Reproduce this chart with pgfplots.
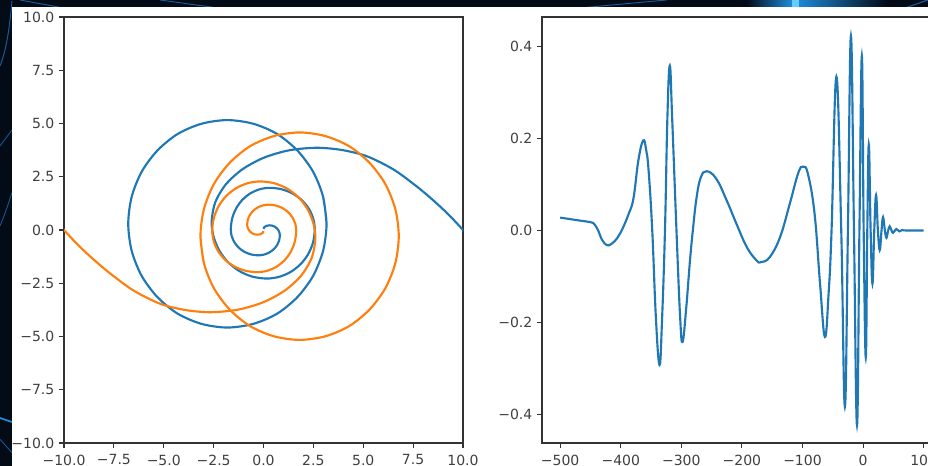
\documentclass[border=0pt]{standalone}
\usepackage{pgfplots}
\pgfplotsset{compat=1.18}
\usepackage{fontspec}
\setmainfont{DejaVu Sans}
\definecolor{mplblue}{HTML}{1F77B4}
\definecolor{mplorange}{HTML}{FF7F0E}
\definecolor{bgdark}{HTML}{030B17}
\definecolor{streak}{HTML}{1A5E9E}
\definecolor{streakb}{HTML}{1E8FE0}
\pgfplotsset{mplax/.style={
  scale only axis, height=319.5pt,
  axis line style={black!80, line width=0.8pt},
  tick align=outside, tick pos=left,
  major tick length=3.75pt,
  every tick/.style={black!80, line width=0.8pt},
  ticklabel style={font=\fontsize{10.5}{12}\selectfont, text=black!75},
  xticklabel style={yshift=-1.5pt},
  /pgf/number format/assume math mode=true,
  axis background/.style={fill=white},
  clip=true}}
\begin{document}
\begin{tikzpicture}
\path[use as bounding box] (0,0) rectangle (696pt,349.5pt);
\begin{scope}
\clip (0,0) rectangle (696pt,349.5pt);
\fill[bgdark] (0,0) rectangle (696pt,349.5pt);
% background streaks
\draw[streak, line width=0.7pt] (0pt,300pt) .. controls (4pt,310pt) and (7pt,325pt) .. (9pt,349pt);
\draw[streak, line width=0.6pt] (0pt,240pt) -- (9pt,252pt);
\draw[streak, line width=0.6pt] (0pt,180pt) .. controls (4pt,190pt) .. (9pt,205pt);
\draw[streakb, line width=1.2pt] (0pt,36pt) -- (9pt,33pt);
\draw[streak, line width=0.6pt] (0pt,20pt) -- (9pt,10pt);
\draw[streak, line width=0.7pt] (15pt,349.5pt) -- (45pt,344pt);
\draw[streak, line width=0.7pt] (120pt,349.5pt) -- (160pt,344pt);
\draw[streak, line width=0.7pt] (440pt,344pt) -- (500pt,349.5pt);
\shade[left color=bgdark, right color=streakb] (560pt,344pt) rectangle (595pt,349.5pt);
\shade[left color=streakb, right color=bgdark] (595pt,344pt) rectangle (665pt,349.5pt);
\fill[cyan!60!white] (594pt,344pt) rectangle (599pt,349.5pt);
\draw[streak, line width=0.8pt] (680pt,344pt) -- (696pt,349.5pt);
% white figure area
\fill[white] (9pt,0pt) rectangle (696pt,344.25pt);

\begin{axis}[mplax, at={(48pt,17.25pt)}, anchor=south west,
  width=299.25pt,
  xmin=-10, xmax=10, ymin=-10, ymax=10,
  xtick={-10,-7.5,-5,-2.5,0,2.5,5,7.5,10},
  xticklabels={−10.0,−7.5,−5.0,−2.5,0.0,2.5,5.0,7.5,10.0},
  ytick={-10,-7.5,-5,-2.5,0,2.5,5,7.5,10},
  yticklabels={−10.0,−7.5,−5.0,−2.5,0.0,2.5,5.0,7.5,10.0}]
% blue spiral
\addplot[mplblue, line width=1.6pt, smooth] coordinates {
(0.00,0.05) (0.04,0.135) (0.15,0.197) (0.30,0.22)
(0.435,0.204) (0.56,0.157) (0.668,0.082) (0.75,-0.015) (0.802,-0.128) (0.82,-0.25)
(0.783,-0.493) (0.674,-0.72) (0.501,-0.915) (0.275,-1.064) (0.012,-1.158) (-0.27,-1.19)
(-0.625,-1.148) (-0.955,-1.027) (-1.239,-0.833) (-1.456,-0.58) (-1.593,-0.286) (-1.64,0.03)
(-1.573,0.535) (-1.377,1.005) (-1.066,1.409) (-0.66,1.719) (-0.187,1.914) (0.32,1.98)
(0.902,1.914) (1.445,1.719) (1.911,1.409) (2.269,1.005) (2.493,0.535) (2.57,0.03)
(2.488,-0.568) (2.246,-1.125) (1.861,-1.603) (1.36,-1.97) (0.776,-2.201) (0.15,-2.28)
(-0.562,-2.189) (-1.225,-1.921) (-1.795,-1.495) (-2.232,-0.94) (-2.506,-0.294) (-2.6,0.4)
(-2.421,1.295) (-1.897,2.13) (-1.062,2.847) (0.025,3.396) (1.291,3.742) (2.65,3.86)
(3.9,3.76) (5.16,3.47) (6.5,2.85) (7.66,2.06) (8.5,1.4) (9.3,0.7) (10,0) (10.7,-0.75)};
% blue big loop
\addplot[mplblue, line width=1.6pt, smooth] coordinates {
(3.16,0.29) (2.99,1.55) (2.49,2.73) (1.70,3.73) (0.68,4.51) (-0.52,4.99) (-1.81,5.16)
(-3.10,4.99) (-4.30,4.51) (-5.32,3.73) (-6.11,2.73) (-6.61,1.55) (-6.78,0.29)
(-6.61,-0.97) (-6.11,-2.15) (-5.32,-3.15) (-4.30,-3.93) (-3.10,-4.41) (-1.81,-4.58)
(-0.52,-4.41) (0.68,-3.93) (1.70,-3.15) (2.49,-2.15) (2.99,-0.97) (3.16,0.29) (2.99,1.55)};
% orange spiral
\addplot[mplorange, line width=1.6pt, smooth] coordinates {
(0.00,-0.05) (-0.04,-0.135) (-0.15,-0.197) (-0.30,-0.22)
(-0.435,-0.204) (-0.56,-0.157) (-0.668,-0.082) (-0.75,0.015) (-0.802,0.128) (-0.82,0.25)
(-0.783,0.493) (-0.674,0.72) (-0.501,0.915) (-0.275,1.064) (-0.012,1.158) (0.27,1.19)
(0.625,1.148) (0.955,1.027) (1.239,0.833) (1.456,0.58) (1.593,0.286) (1.64,-0.03)
(1.573,-0.535) (1.377,-1.005) (1.066,-1.409) (0.66,-1.719) (0.187,-1.914) (-0.32,-1.98)
(-0.902,-1.914) (-1.445,-1.719) (-1.911,-1.409) (-2.269,-1.005) (-2.493,-0.535) (-2.57,-0.03)
(-2.488,0.568) (-2.246,1.125) (-1.861,1.603) (-1.36,1.97) (-0.776,2.201) (-0.15,2.28)
(0.562,2.189) (1.225,1.921) (1.795,1.495) (2.232,0.94) (2.506,0.294) (2.6,-0.4)
(2.421,-1.295) (1.897,-2.13) (1.062,-2.847) (-0.025,-3.396) (-1.291,-3.742) (-2.65,-3.86)
(-3.9,-3.76) (-5.16,-3.47) (-6.5,-2.85) (-7.66,-2.06) (-8.5,-1.4) (-9.3,-0.7) (-10,0) (-10.7,0.75)};
% orange big loop
\addplot[mplorange, line width=1.6pt, smooth] coordinates {
(-3.16,-0.29) (-2.99,-1.55) (-2.49,-2.73) (-1.70,-3.73) (-0.68,-4.51) (0.52,-4.99) (1.81,-5.16)
(3.10,-4.99) (4.30,-4.51) (5.32,-3.73) (6.11,-2.73) (6.61,-1.55) (6.78,-0.29)
(6.61,0.97) (6.11,2.15) (5.32,3.15) (4.30,3.93) (3.10,4.41) (1.81,4.58)
(0.52,4.41) (-0.68,3.93) (-1.70,3.15) (-2.49,2.15) (-2.99,0.97) (-3.16,-0.29) (-2.99,-1.55)};
\end{axis}

\begin{axis}[mplax, at={(406.5pt,17.25pt)}, anchor=south west,
  width=299.85pt,
  xmin=-530, xmax=130, ymin=-0.463, ymax=0.465,
  xtick={-500,-400,-300,-200,-100,0,100},
  xticklabels={−500,−400,−300,−200,−100,0,100},
  ytick={-0.4,-0.2,0,0.2,0.4},
  yticklabels={−0.4,−0.2,0.0,0.2,0.4}]
\addplot[mplblue, line width=1.6pt, smooth, tension=0.7] coordinates {
(-500,0.028) (-470,0.022) (-450,0.018) (-444,0.014) (-438,0.002) (-431,-0.02) (-423,-0.032)
(-415,-0.029) (-405,-0.015) (-396,0.007) (-387,0.036) (-379,0.07) (-371,0.152) (-363,0.196)
(-358,0.175) (-354,0.13) (-348,0) (-342,-0.19) (-336,-0.293) (-332,-0.2) (-327,0)
(-323,0.246) (-319,0.359) (-315,0.24) (-308,0) (-302,-0.188) (-298,-0.243)
(-292,-0.17) (-286,-0.07) (-281,0.0) (-275,0.07) (-268,0.115) (-258,0.129)
(-242,0.112) (-225,0.065) (-209,0.0145) (-192,-0.036) (-176,-0.065) (-168,-0.069)
(-154,-0.058) (-137,-0.0145) (-121,0.058) (-107,0.125) (-99,0.139) (-91,0.123)
(-80,0.036) (-71,-0.116) (-63,-0.232) (-57,-0.14) (-52,0) (-44,0.335) (-36,0)
(-30,-0.384) (-25,0) (-20,0.424) (-15,0) (-10,-0.424) (-6,0) (-2,0.38) (1,0)
(4.5,-0.277) (7,0) (9.5,0.187) (12.5,0) (15.5,-0.116) (18.5,0) (21.5,0.077)
(24.5,0) (27.5,-0.043) (30.5,0) (33,0.029) (36,0) (38.6,-0.016) (41.5,0)
(44,0.009) (47,0) (49.5,-0.005) (55,0.003) (60,-0.002) (65,0.001) (70,0) (100,0)};
\end{axis}
\end{scope}
\end{tikzpicture}
\end{document}
